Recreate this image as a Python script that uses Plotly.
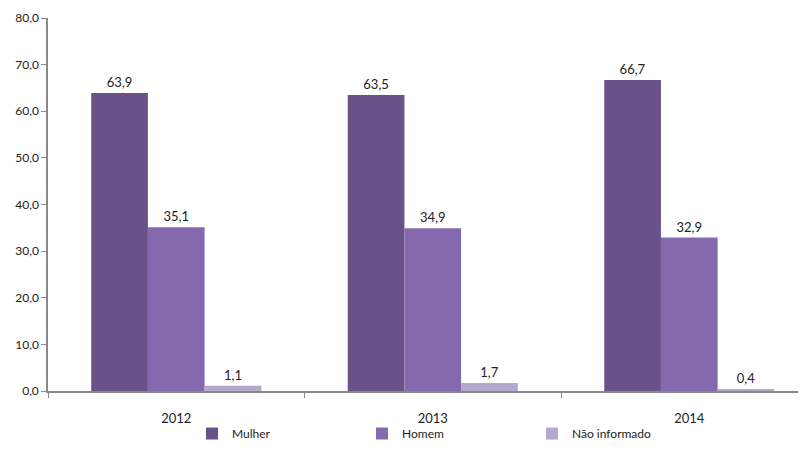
import plotly.graph_objects as go

years = ["2012", "2013", "2014"]
mulher = [63.9, 63.5, 66.7]
homem = [35.1, 34.9, 32.9]
nao_informado = [1.1, 1.7, 0.4]

series = [
    ("Mulher", mulher, "#69518A"),
    ("Homem", homem, "#8469AE"),
    ("Não informado", nao_informado, "#B6A8CC"),
]

FONT = "Lato, Carlito, 'Open Sans', sans-serif"

fig = go.Figure()
for name, vals, col in series:
    fig.add_trace(go.Bar(
        x=years, y=vals, name=name,
        marker=dict(color=col, line=dict(width=0)),
        text=vals, texttemplate="%{y:.1f}", textposition="outside",
        textfont=dict(size=13, color="#222222", family=FONT),
        cliponaxis=False,
    ))

fig.update_layout(
    width=798, height=460,
    margin=dict(l=40, r=0, t=10, b=77),
    paper_bgcolor="white", plot_bgcolor="white",
    barmode="group", bargap=0.337, bargroupgap=0,
    separators=",.",
    font=dict(family=FONT, size=12, color="#222222"),
    showlegend=True,
    legend=dict(
        orientation="h", x=0.19, xanchor="left", y=-0.114, yanchor="middle",
        bgcolor="rgba(0,0,0,0)",
        font=dict(size=12, family=FONT, color="#222222"),
        entrywidth=125, entrywidthmode="pixels",
        traceorder="normal",
    ),
    xaxis=dict(
        range=[-0.5, 2.455],
        showline=True, linecolor="#888888", linewidth=1.5,
        ticks="outside", tickson="boundaries", ticklen=5, tickcolor="#888888",
        ticklabelstandoff=15,
        showgrid=False, zeroline=False,
        tickfont=dict(size=13, family=FONT),
    ),
    yaxis=dict(
        range=[0, 80], dtick=10, tickformat=".1f",
        showline=True, linecolor="#888888", linewidth=1.5,
        ticks="outside", ticklen=5, tickcolor="#888888",
        showgrid=False, zeroline=False,
        tickfont=dict(size=12, family=FONT),
    ),
)

fig.write_html("out.html")
